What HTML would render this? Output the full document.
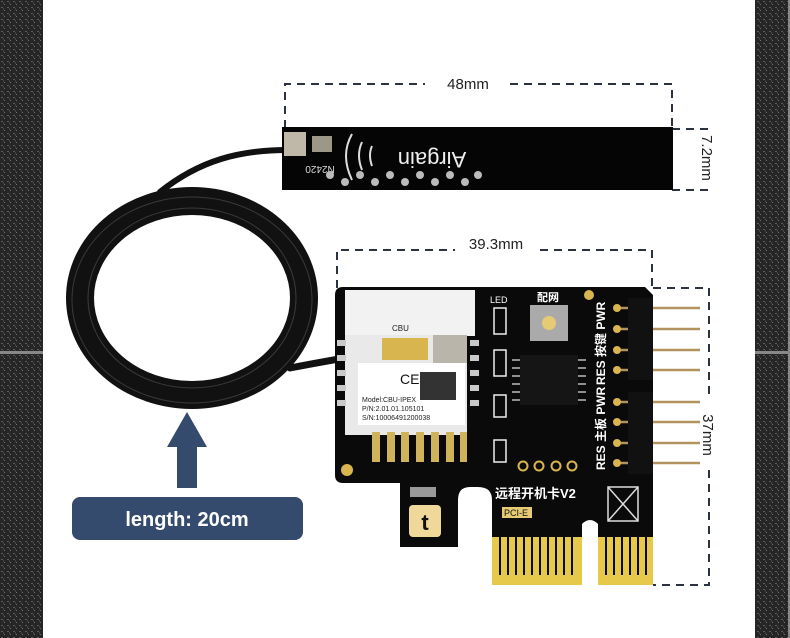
<!DOCTYPE html>
<html><head><meta charset="utf-8"><style>
html,body{margin:0;padding:0;background:#fff}
svg{display:block}
</style></head><body>
<svg width="790" height="638" viewBox="0 0 790 638" xmlns="http://www.w3.org/2000/svg" font-family="Liberation Sans, Noto Sans CJK SC, sans-serif">
<defs>
<pattern id="tex" width="6" height="6" patternUnits="userSpaceOnUse">
<rect width="6" height="6" fill="#262626"/>
<rect x="1" y="1" width="2" height="1" fill="#5a5a5a"/>
<rect x="4" y="4" width="1" height="1" fill="#707070"/>
<rect x="3" y="2" width="1" height="2" fill="#444"/>
</pattern>
</defs>
<rect width="790" height="638" fill="#fff"/>
<rect x="0" y="0" width="43" height="638" fill="url(#tex)"/>
<rect x="755" y="0" width="33" height="638" fill="url(#tex)"/>
<rect x="788" y="0" width="2" height="638" fill="#888"/>
<rect x="0" y="351" width="43" height="3" fill="#888"/>
<rect x="755" y="351" width="35" height="3" fill="#888"/>

<!-- dimension lines -->
<g stroke="#2b3340" stroke-width="2" stroke-dasharray="8,6" fill="none">
<path d="M285 128 V84 H425"/><path d="M510 84 H672 V128"/>
<path d="M672 129 H708"/><path d="M672 190 H708"/>
<path d="M337 288 V250 H455"/><path d="M540 250 H652 V288"/>
<path d="M653 288 H709 V400"/><path d="M709 470 V585 H653"/>
</g>
<g fill="#222" font-size="15">
<text x="468" y="89" text-anchor="middle">48mm</text>
<text x="496" y="249" text-anchor="middle">39.3mm</text>
<text transform="translate(702,158) rotate(90)" text-anchor="middle">7.2mm</text>
<text transform="translate(703,435) rotate(90)" text-anchor="middle">37mm</text>
</g>

<!-- cable -->
<g fill="none" stroke="#111" stroke-linecap="round">
<ellipse cx="192" cy="298" rx="112" ry="97" stroke-width="28"/>
<path d="M288 150 C240 150 200 160 160 192" stroke-width="6"/>
<path d="M290 368 C330 360 360 356 385 350" stroke-width="7"/>
</g>
<g fill="none" stroke="#555" stroke-width="1" opacity="0.6">
<ellipse cx="192" cy="298" rx="104" ry="90"/>
<ellipse cx="192" cy="300" rx="120" ry="103"/>
</g>

<!-- antenna -->
<rect x="282" y="127" width="391" height="63" fill="#050505"/>
<rect x="284" y="132" width="22" height="24" fill="#bfb8a8"/>
<rect x="312" y="136" width="20" height="16" fill="#9d9788"/>
<text transform="translate(432,152) rotate(180)" fill="#eee" font-size="22" text-anchor="middle">Airgain</text>
<text transform="translate(320,166) rotate(180)" fill="#ddd" font-size="10" text-anchor="middle">N2420</text>
<g fill="none" stroke="#ddd" stroke-width="2">
<path d="M352 134 Q340 155 352 180"/><path d="M362 142 Q356 155 362 170"/><path d="M372 146 Q368 155 372 166"/>
</g>
<g fill="#bbb">
<circle cx="330" cy="175" r="4"/><circle cx="345" cy="182" r="4"/><circle cx="360" cy="175" r="4"/><circle cx="375" cy="182" r="4"/><circle cx="390" cy="175" r="4"/><circle cx="405" cy="182" r="4"/><circle cx="420" cy="175" r="4"/><circle cx="435" cy="182" r="4"/><circle cx="450" cy="175" r="4"/><circle cx="465" cy="182" r="4"/><circle cx="478" cy="175" r="4"/>
</g>

<!-- pcb -->
<path d="M343 287 H645 L653 295 V537 H598 V524 Q590 516 582 524 V537 H492 V500 Q492 487 478 487 H470 Q458 487 458 500 V547 H400 V483 H343 Q335 483 335 475 V295 Q335 287 343 287 Z" fill="#0a0a0a"/>
<rect x="492" y="537" width="90" height="48" fill="#e6c84a"/>
<rect x="598" y="537" width="55" height="48" fill="#e6c84a"/>
<g stroke="#0a0a0a" stroke-width="2">
<path d="M500 537V575M508 537V575M516 537V575M524 537V575M532 537V575M540 537V575M548 537V575M556 537V575M564 537V575M572 537V575M606 537V575M614 537V575M622 537V575M630 537V575M638 537V575M646 537V575"/>
</g>
<!-- module -->
<rect x="345" y="290" width="130" height="46" fill="#f2f2f2"/>
<rect x="345" y="335" width="122" height="100" fill="#e9e9e9"/>
<rect x="433" y="335" width="34" height="28" fill="#b9b5ab"/>
<rect x="382" y="338" width="46" height="22" fill="#d8b54f"/>
<rect x="358" y="363" width="107" height="62" fill="#fff"/>
<text x="400" y="384" font-size="14" fill="#111">CE</text>
<rect x="420" y="372" width="36" height="28" fill="#333"/>
<text x="362" y="402" font-size="7" fill="#222">Model:CBU-IPEX</text>
<text x="362" y="411" font-size="7" fill="#222">P/N:2.01.01.105101</text>
<text x="362" y="420" font-size="7" fill="#222">S/N:10006491200038</text>
<text x="392" y="331" font-size="8" fill="#222">CBU</text>
<g fill="#cfb35a"><rect x="372" y="432" width="8" height="30"/><rect x="387" y="432" width="8" height="30"/><rect x="401" y="432" width="8" height="30"/><rect x="416" y="432" width="8" height="30"/><rect x="431" y="432" width="8" height="30"/><rect x="446" y="432" width="8" height="30"/><rect x="460" y="432" width="7" height="30"/></g>
<g fill="#c9c9c9"><rect x="337" y="340" width="9" height="6"/><rect x="337" y="355" width="9" height="6"/><rect x="337" y="370" width="9" height="6"/><rect x="337" y="385" width="9" height="6"/><rect x="337" y="400" width="9" height="6"/><rect x="470" y="340" width="9" height="6"/><rect x="470" y="355" width="9" height="6"/><rect x="470" y="370" width="9" height="6"/><rect x="470" y="385" width="9" height="6"/><rect x="470" y="400" width="9" height="6"/></g>
<circle cx="347" cy="470" r="6" fill="#d8b54f"/>
<circle cx="589" cy="295" r="5" fill="#d8b54f"/>
<!-- components -->
<text x="490" y="303" font-size="9" fill="#fff">LED</text>
<rect x="494" y="308" width="12" height="26" fill="none" stroke="#eee" stroke-width="1.5"/>
<rect x="494" y="350" width="12" height="26" fill="none" stroke="#eee" stroke-width="1.5"/>
<rect x="494" y="395" width="12" height="22" fill="none" stroke="#eee" stroke-width="1.5"/>
<rect x="494" y="440" width="12" height="22" fill="none" stroke="#eee" stroke-width="1.5"/>
<text x="537" y="301" font-size="11" fill="#fff" font-weight="bold">配网</text>
<rect x="530" y="305" width="38" height="36" fill="#aaa"/>
<circle cx="549" cy="323" r="7" fill="#e6cb74"/>
<rect x="520" y="355" width="58" height="50" fill="#151515"/>
<g stroke="#bbb" stroke-width="1.5"><path d="M512 360H520M512 368H520M512 376H520M512 384H520M512 392H520M512 400H520M578 360H586M578 368H586M578 376H586M578 384H586M578 392H586M578 400H586"/></g>
<g fill="none" stroke="#d8b54f" stroke-width="2"><circle cx="523" cy="466" r="4.5"/><circle cx="539" cy="466" r="4.5"/><circle cx="556" cy="466" r="4.5"/><circle cx="572" cy="466" r="4.5"/></g>
<rect x="410" y="487" width="26" height="10" fill="#999"/>
<text transform="translate(605,470) rotate(-90)" font-size="12" fill="#fff" font-weight="bold">RES 主板 PWR</text>
<text transform="translate(605,385) rotate(-90)" font-size="12" fill="#fff" font-weight="bold">RES 按键 PWR</text>
<text x="495" y="498" font-size="13" fill="#fff" font-weight="bold">远程开机卡V2</text>
<rect x="502" y="507" width="30" height="11" fill="#e6cb74"/>
<text x="504" y="516" font-size="9" fill="#111">PCI-E</text>
<rect x="608" y="487" width="30" height="34" fill="none" stroke="#ddd" stroke-width="1.5"/>
<path d="M608 487L638 521M638 487L608 521" stroke="#ddd" stroke-width="1.5"/>
<rect x="409" y="505" width="32" height="32" rx="4" fill="#f0d89a"/>
<text x="425" y="530" font-size="22" font-weight="bold" fill="#111" text-anchor="middle">t</text>
<!-- header -->
<g stroke="#b29360" stroke-width="2.5"><path d="M616 308H700M616 329H700M616 350H700M616 370H700M616 402H700M616 422H700M616 443H700M616 463H700"/></g>
<rect x="628" y="298" width="25" height="82" fill="#111"/>
<rect x="628" y="392" width="25" height="82" fill="#111"/>
<g fill="#d8b54f"><circle cx="617" cy="308" r="4"/><circle cx="617" cy="329" r="4"/><circle cx="617" cy="350" r="4"/><circle cx="617" cy="370" r="4"/><circle cx="617" cy="402" r="4"/><circle cx="617" cy="422" r="4"/><circle cx="617" cy="443" r="4"/><circle cx="617" cy="463" r="4"/></g>

<!-- arrow + label -->
<path d="M187 412 L207 447 H197 V488 H177 V447 H167 Z" fill="#344b6e"/>
<rect x="72" y="497" width="231" height="43" rx="8" fill="#344b6e"/>
<text x="187" y="526" font-size="20" font-weight="bold" fill="#fff" text-anchor="middle">length: 20cm</text>
</svg>
</body></html>
